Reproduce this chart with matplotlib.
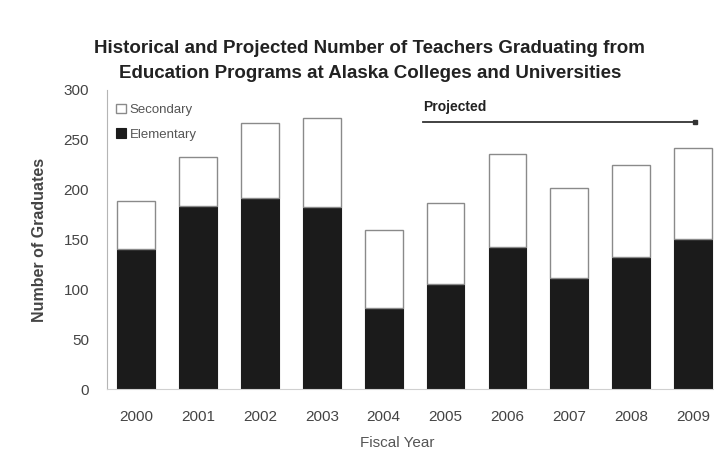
import matplotlib
matplotlib.use("Agg")
import matplotlib.pyplot as plt
import numpy as np

years = ["2000", "2001", "2002", "2003", "2004", "2005", "2006", "2007", "2008", "2009"]
elementary = [140, 184, 192, 183, 81, 105, 142, 111, 132, 150]
secondary = [49, 49, 75, 89, 79, 82, 94, 91, 93, 92]
y_ticks = [0, 50, 100, 150, 200, 250, 300]

plt.rcParams["font.family"] = ["Liberation Sans", "DejaVu Sans"]

fig = plt.figure(figsize=(7.14, 4.54), dpi=100)
ax = fig.add_axes([0.150, 0.143, 0.850, 0.659])

x = np.arange(len(years))
width = 0.61
ax.bar(x, elementary, width, color="#1b1b1b", edgecolor="#1b1b1b", linewidth=0.8,
       label="Elementary", zorder=2)
ax.bar(x, secondary, width, bottom=elementary, color="white", edgecolor="#8a8a8a",
       linewidth=1.0, label="Secondary", zorder=2)

ax.set_xlim(-0.47, 9.34)
ax.set_ylim(0, 300)
ax.set_xticks(x)
ax.set_xticklabels(years)
ax.set_yticks(y_ticks)
ax.tick_params(axis="both", length=0, labelsize=11, colors="#444444")
ax.tick_params(axis="x", pad=15)
ax.tick_params(axis="y", pad=13)

for side in ["top", "right"]:
    ax.spines[side].set_visible(False)
ax.spines["left"].set_color("#b5b5b5")
ax.spines["bottom"].set_color("#d0d0d0")

ax.set_ylabel("Number of Graduates", fontsize=11.5, fontweight="bold", color="#444444",
              labelpad=12)
fig.text(0.557, 0.008, "Fiscal Year", ha="center", va="bottom", fontsize=11,
         color="#555555")

handles, labels = ax.get_legend_handles_labels()
leg = ax.legend(handles[::-1], labels[::-1], loc="upper left", bbox_to_anchor=(0.0, 0.985),
                frameon=False, fontsize=9.5, handlelength=0.7, handleheight=0.7,
                handletextpad=0.3, labelspacing=0.95, borderaxespad=0.3)
for t in leg.get_texts():
    t.set_color("#555555")

# bracket marking the projected years
ax.plot([4.64, 9.03], [268, 268], color="#333333", linewidth=1.3, zorder=3)
ax.plot([9.03], [268], marker="s", markersize=3, color="#333333", zorder=3)
ax.text(4.64, 276, "Projected", fontsize=10, fontweight="bold", color="#222222",
        ha="left", va="bottom")

fig.suptitle("Historical and Projected Number of Teachers Graduating from\n"
             "Education Programs at Alaska Colleges and Universities",
             x=0.518, y=0.912, fontsize=13.5, fontweight="bold", color="#222222",
             linespacing=1.65)

fig.savefig("out.png", dpi=100, facecolor="white")
